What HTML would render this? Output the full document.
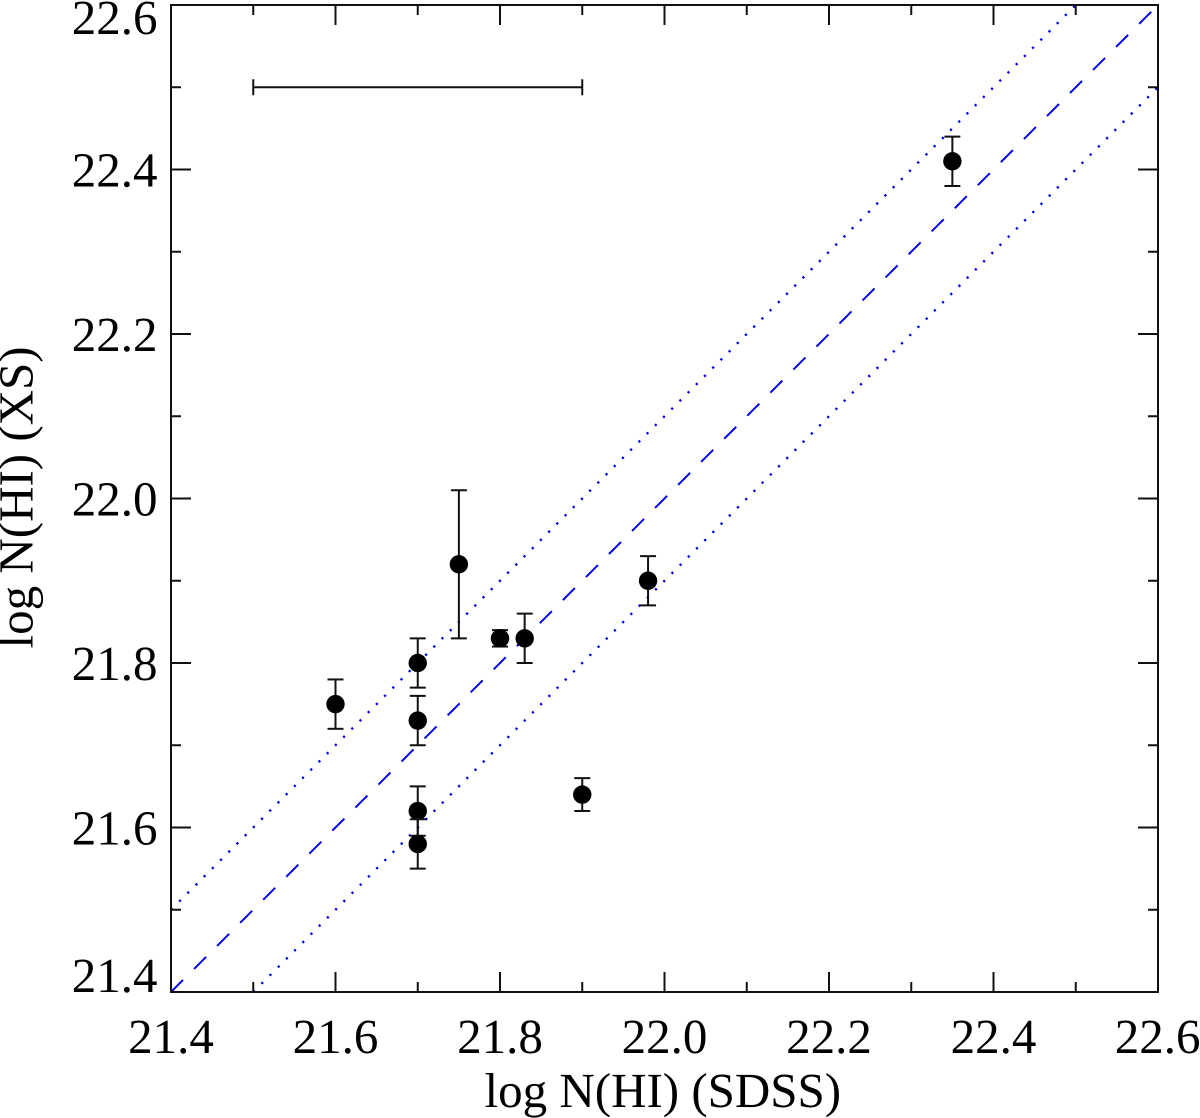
<!DOCTYPE html>
<html>
<head>
<meta charset="utf-8">
<title>log N(HI) XS vs SDSS</title>
<style>
html,body{margin:0;padding:0;background:#fff;}
svg{display:block;}
text{font-family:"Liberation Serif",serif;fill:#000;text-rendering:geometricPrecision;}
</style>
</head>
<body>
<svg id="chart" xmlns="http://www.w3.org/2000/svg" width="1200" height="1118" viewBox="0 0 1200 1118"></svg>
<script>
const xValues = [21.6, 21.7, 21.7, 21.7, 21.7, 21.75, 21.8, 21.83, 21.9, 21.98, 22.35];
const yValues = [21.75, 21.8, 21.73, 21.62, 21.58, 21.92, 21.83, 21.83, 21.64, 21.9, 22.41];
const yErrors = [0.03, 0.03, 0.03, 0.03, 0.03, 0.09, 0.01, 0.03, 0.02, 0.03, 0.03];
const majorTicks = [21.4, 21.6, 21.8, 22.0, 22.2, 22.4, 22.6];
const minorTicks = [21.5, 21.7, 21.9, 22.1, 22.3, 22.5];
const tickLabels = ["21.4", "21.6", "21.8", "22.0", "22.2", "22.4", "22.6"];
const domain = [21.4, 22.6];
const identityOffsets = [-0.1, 0.1];
const keyErrorX = [21.5, 21.9];
const keyErrorY = [22.5];

const PLOT = {l: 171, r: 1158, t: 5, b: 992};
const FONT = 49;
const sx = v => PLOT.l + (v - domain[0]) / (domain[1] - domain[0]) * (PLOT.r - PLOT.l);
const sy = v => PLOT.b - (v - domain[0]) / (domain[1] - domain[0]) * (PLOT.b - PLOT.t);
const svg = document.getElementById('chart');
const NS = 'http://www.w3.org/2000/svg';
function make(tag, attrs, text) {
  const el = document.createElementNS(NS, tag);
  for (const k in attrs) el.setAttribute(k, attrs[k]);
  if (text !== undefined) el.textContent = text;
  svg.appendChild(el);
  return el;
}
const BLACK = {stroke: '#111', 'stroke-width': 2, fill: 'none'};
function blackLine(x1, y1, x2, y2) {
  return make('line', Object.assign({x1, y1, x2, y2}, BLACK));
}

/* reference lines */
function clipLine(offset) {
  const lo = Math.max(domain[0], domain[0] - offset);
  const hi = Math.min(domain[1], domain[1] - offset);
  return {x1: sx(lo), y1: sy(lo + offset), x2: sx(hi), y2: sy(hi + offset)};
}
const identity = make('line', Object.assign(clipLine(0), {stroke: '#0000e6', 'stroke-width': 2, 'stroke-dasharray': '17 15.6'}));


identityOffsets.forEach(function (off) {
  const l = make('line', Object.assign(clipLine(off), {stroke: '#0000e6', 'stroke-width': 2.4, 'stroke-dasharray': '2.2 9.4'}));
  
  
});

/* frame */
const frame = make('rect', {x: PLOT.l, y: PLOT.t, width: PLOT.r - PLOT.l, height: PLOT.b - PLOT.t, fill: 'none', stroke: '#111', 'stroke-width': 2});



/* ticks */
function ticks(values, len, kind) {
  values.forEach(function (v) {
    const bottom = blackLine(sx(v), PLOT.b, sx(v), PLOT.b - len);
    
    
    const top = blackLine(sx(v), PLOT.t, sx(v), PLOT.t + len);
    
    
    const left = blackLine(PLOT.l, sy(v), PLOT.l + len, sy(v));
    
    
    const right = blackLine(PLOT.r, sy(v), PLOT.r - len, sy(v));
    
    
  });
}
ticks(majorTicks, 20, 'major');
ticks(minorTicks, 10, 'minor');

/* tick labels */
majorTicks.forEach(function (v, i) {
  const isLast = i === majorTicks.length - 1;
  const tx = make('text', {x: isLast ? 1200.5 : sx(v), y: 1053, 'font-size': FONT, 'text-anchor': isLast ? 'end' : 'middle'}, tickLabels[i]);
  
  
  let by = sy(v) + 17;
  if (i === 0) by = sy(v);
  if (isLast) by = sy(v) + 29;
  const ty = make('text', {x: 157.5, y: by, 'font-size': FONT, 'text-anchor': 'end'}, tickLabels[i]);
  
  
});

/* representative error bar */
const keyBar = blackLine(sx(keyErrorX[0]), sy(keyErrorY[0]), sx(keyErrorX[1]), sy(keyErrorY[0]));


keyErrorX.forEach(function (v) {
  const cap = blackLine(sx(v), sy(keyErrorY[0]) - 8, sx(v), sy(keyErrorY[0]) + 8);
  
  
});

/* data */
xValues.forEach(function (xv, i) {
  const px = sx(xv);
  const hi = sy(yValues[i] + yErrors[i]);
  const lo = sy(yValues[i] - yErrors[i]);
  const stem = blackLine(px, hi, px, lo);
  
  
  const capHi = blackLine(px - 8, hi, px + 8, hi);
  
  
  const capLo = blackLine(px - 8, lo, px + 8, lo);
  
  
  const dot = make('circle', {cx: px, cy: sy(yValues[i]), r: 9.2, fill: '#000'});
  
  
});

/* axis titles */
const xTitle = make('text', {x: 484.5, y: 1107, 'font-size': FONT}, 'log N(HI) (SDSS)');


const yTitle = make('text', {x: 0, y: 0, transform: 'translate(32.5 648.5) rotate(-90)', 'font-size': FONT}, 'log N(HI) (XS)');


</script>
</body>
</html>
